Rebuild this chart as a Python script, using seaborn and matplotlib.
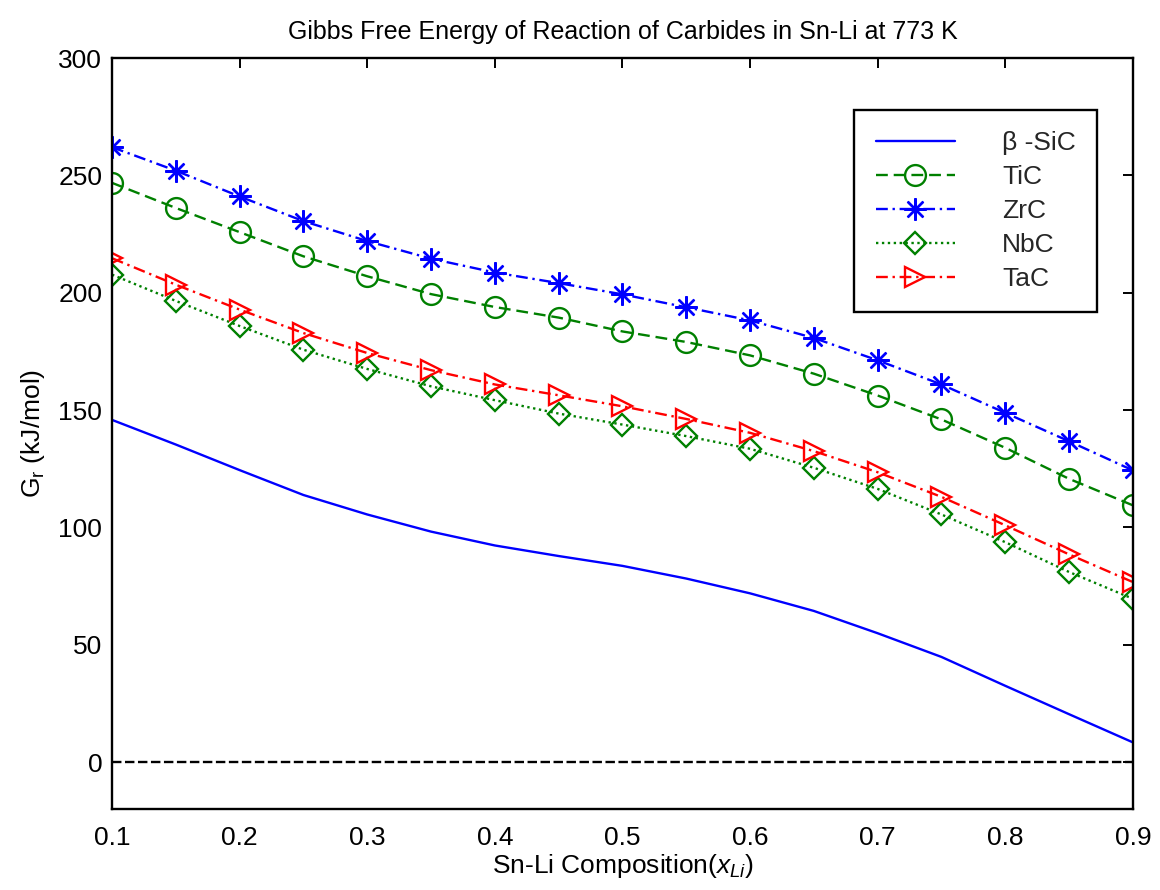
import numpy as np
import pandas as pd
import matplotlib
matplotlib.use("Agg")
import matplotlib.pyplot as plt
import seaborn as sns

x_li = [0.10, 0.15, 0.20, 0.25, 0.30, 0.35, 0.40, 0.45, 0.50,
        0.55, 0.60, 0.65, 0.70, 0.75, 0.80, 0.85, 0.90]
sic = [145.8, 135.3, 124.4, 113.8, 105.5, 98.2, 92.3, 87.8, 83.6,
       78.2, 71.9, 64.4, 54.9, 44.8, 32.5, 20.4, 8.4]
tic = [246.8, 236.1, 225.8, 215.5, 207.0, 199.4, 193.9, 189.4, 183.5,
       179.0, 173.3, 165.5, 156.2, 146.0, 133.9, 120.7, 109.4]
zrc = [262.0, 252.0, 241.0, 230.5, 222.0, 214.5, 208.6, 204.1, 199.3,
       193.8, 188.2, 180.7, 171.2, 160.9, 148.8, 136.7, 124.3]
nbc = [207.7, 196.5, 185.8, 175.7, 167.5, 160.1, 154.2, 148.5, 143.8,
       138.9, 133.5, 125.4, 116.4, 105.5, 93.7, 81.0, 69.6]
tac = [214.7, 203.4, 192.8, 182.8, 174.3, 167.0, 160.9, 156.3, 151.6,
       146.2, 140.3, 132.5, 123.5, 113.0, 100.9, 88.5, 76.7]
labels = ["β -SiC", "TiC", "ZrC", "NbC", "TaC"]
x_ticks = [0.1, 0.2, 0.3, 0.4, 0.5, 0.6, 0.7, 0.8, 0.9]
y_ticks = [0, 50, 100, 150, 200, 250, 300]

sns.set_theme(style="white")
plt.rcParams['font.family'] = ['Liberation Sans', 'DejaVu Sans']
plt.rcParams['mathtext.fontset'] = 'custom'
plt.rcParams['mathtext.rm'] = 'Liberation Sans'
plt.rcParams['mathtext.it'] = 'Liberation Sans:italic'

fig = plt.figure(figsize=(11.6, 8.9), dpi=100)
ax = fig.add_axes([0.0966, 0.091, 0.880, 0.8438])

series = [
    (sic, "blue", None, (None, None)),
    (tic, "green", "o", (5, 2.5)),
    (zrc, "blue", (8, 2, 0), (5, 2, 1, 2)),
    (nbc, "green", "D", (1, 1.5)),
    (tac, "red", ">", (5, 2, 1, 2)),
]

lw = 1.7
for (vals, col, mk, dash), lab in zip(series, labels):
    df = pd.DataFrame({"x": x_li, "y": vals})
    kw = dict(color=col, linewidth=lw, label=lab, ax=ax)
    if mk is not None:
        ms = {"o": 15, "D": 11.5, ">": 15}.get(mk, 16)
        kw.update(marker=mk, markersize=ms, markerfacecolor="none",
                  markeredgecolor=col, markeredgewidth=1.7,
                  dashes=dash)
    sns.lineplot(data=df, x="x", y="y", **kw)

ax.axhline(0, color="black", linewidth=1.7, dashes=(4, 1.5), zorder=1)

ax.set_xlim(0.1, 0.9)
ax.set_ylim(-20, 300)
ax.set_xticks(x_ticks)
ax.set_xticklabels([f"{t:.1f}" for t in x_ticks])
ax.set_yticks(y_ticks)
ax.tick_params(axis="both", which="both", direction="in", length=7, width=1.4,
               top=True, right=True, labelsize=19, color="black",
               labelcolor="black")
ax.tick_params(axis="x", pad=12)
ax.tick_params(axis="y", pad=7)
for sp in ax.spines.values():
    sp.set_color("black")
    sp.set_linewidth(1.7)

ax.set_xlabel(r"Sn-Li Composition($\mathit{x}_{\mathit{Li}}$)", fontsize=19,
              color="black", labelpad=2)
ax.set_ylabel(r"G$_\mathregular{r}$ (kJ/mol)", fontsize=19, color="black",
              labelpad=8)
ax.set_title("Gibbs Free Energy of Reaction of Carbides in Sn-Li at 773 K",
             fontsize=18, color="black", pad=14)

leg = ax.legend(loc="upper right", bbox_to_anchor=(0.965, 0.931),
                fontsize=19, frameon=True, fancybox=False, edgecolor="black",
                handlelength=3.0, labelspacing=0.38, borderpad=0.8,
                handletextpad=1.8, borderaxespad=0)
leg.get_frame().set_linewidth(1.7)
leg.get_frame().set_alpha(1)

fig.savefig("out.png", dpi=100, facecolor="white")
